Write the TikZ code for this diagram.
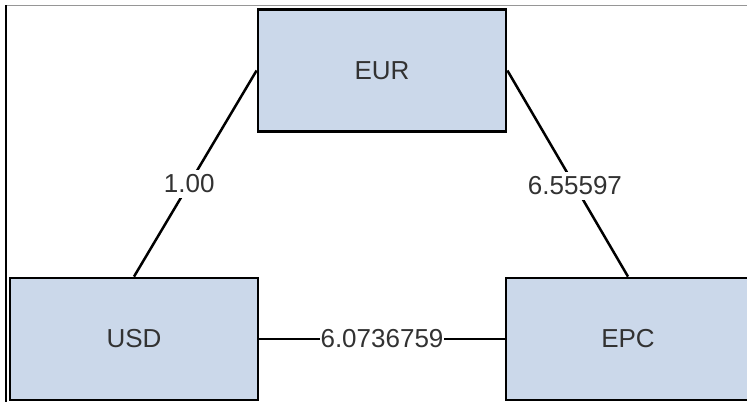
\documentclass[tikz,border=0pt]{standalone}
\usepackage{fontspec}
\setmainfont{Liberation Sans}
\definecolor{boxfill}{RGB}{203,216,234}
\definecolor{txt}{RGB}{50,50,50}
\definecolor{framegray}{RGB}{150,150,150}
\begin{document}
\begin{tikzpicture}[x=1bp,y=-1bp,
  cur/.style={draw=black,line width=2.8bp,fill=boxfill,minimum width=248bp,minimum height=122bp,
    inner sep=0pt,font=\fontsize{26bp}{30bp}\selectfont,text=txt,anchor=center},
  link/.style={draw=black,line width=2.5bp},
  lbl/.style={fill=white,inner xsep=1bp,inner ysep=5bp,font=\fontsize{26bp}{30bp}\selectfont,text=txt}]
\useasboundingbox (0,0) rectangle (747,402);
\begin{scope}
\clip (0,0) rectangle (747,402);
\draw[framegray,line width=1.2bp] (6,5.5) -- (747,5.5);
\draw[black,line width=1.5bp] (6,5) -- (6,402);
\node[cur] (eur) at (382,70.5) {EUR};
\node[cur] (usd) at (134,339) {USD};
\node[cur,minimum width=244bp] (epc) at (628,339) {EPC};
\draw[link] (usd.north) -- node[lbl,pos=0.45] {1.00} (eur.west);
\draw[link] (eur.east) -- node[lbl,pos=0.56] {6.55597} (epc.north);
\draw[link] (usd.east) -- node[lbl,inner ysep=2bp] {6.0736759} (epc.west);
\end{scope}
\end{tikzpicture}
\end{document}
